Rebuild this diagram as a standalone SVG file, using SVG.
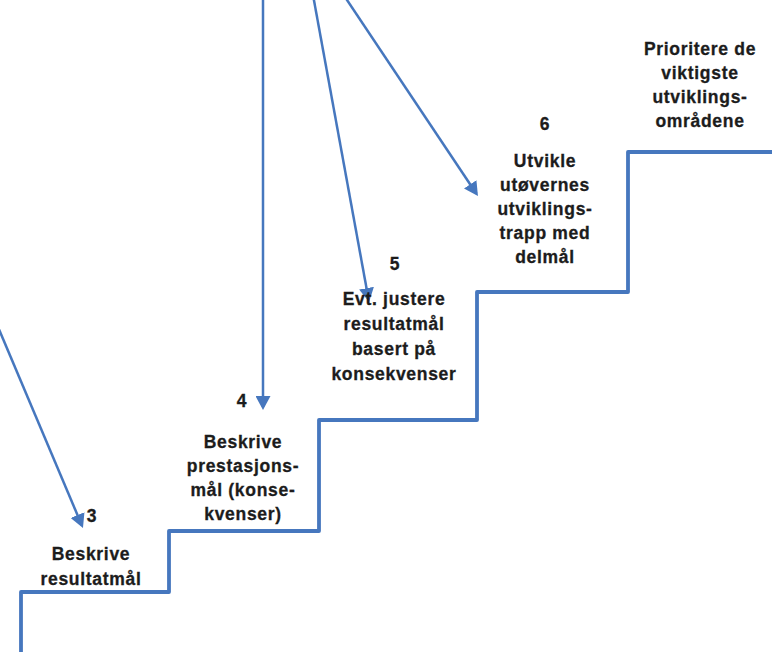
<svg xmlns="http://www.w3.org/2000/svg" width="772" height="655" viewBox="0 0 772 655">
  <style>
    .stair { fill: none; stroke: #4677be; stroke-width: 3.8; stroke-linejoin: round; }
    .arrow { fill: none; stroke: #4677be; stroke-width: 2.5; }
    .lbl { font-family: "Liberation Sans", Arial, sans-serif; font-weight: bold; font-size: 17.5px; letter-spacing: 0.7px; fill: #1c1c1c; stroke: #1c1c1c; stroke-width: 0.3; text-anchor: middle; }
  </style>
  <defs>
    <marker id="head" viewBox="0 0 14 15" refX="11" refY="7.5" markerWidth="14" markerHeight="15" markerUnits="userSpaceOnUse" orient="auto">
      <path d="M0,0 L14,7.5 L0,15 z" fill="#4677be"/>
    </marker>
  </defs>

  <rect width="772" height="655" fill="#ffffff"/>

  <!-- staircase -->
  <path class="stair" d="M21,652 V592 H169 V531 H319 V420 H477 V292 H628 V152 H772"/>

  <g id="connectors">
    <path class="arrow" d="M-5,320 L81.8,525.2" marker-end="url(#head)"/>
    <path class="arrow" d="M263,-5 L263,407" marker-end="url(#head)"/>
    <path class="arrow" d="M313,-5 L368.5,299" marker-end="url(#head)"/>
    <path class="arrow" d="M345,-3 L476.3,193.5" marker-end="url(#head)"/>
  </g>

  <g id="step3">
    <text class="lbl" x="92" y="522">3</text>
    <text class="lbl" x="91" y="560">Beskrive</text>
    <text class="lbl" x="91" y="585">resultatmål</text>
  </g>

  <g id="step4">
    <text class="lbl" x="242" y="407">4</text>
    <text class="lbl" x="243" y="448">Beskrive</text>
    <text class="lbl" x="243" y="472">prestasjons-</text>
    <text class="lbl" x="243" y="496">mål (konse-</text>
    <text class="lbl" x="243" y="520">kvenser)</text>
  </g>

  <g id="step5">
    <text class="lbl" x="395" y="270">5</text>
    <text class="lbl" x="394" y="305">Evt. justere</text>
    <text class="lbl" x="394" y="330">resultatmål</text>
    <text class="lbl" x="394" y="355">basert på</text>
    <text class="lbl" x="394" y="380">konsekvenser</text>
  </g>

  <g id="step6">
    <text class="lbl" x="545" y="130">6</text>
    <text class="lbl" x="545" y="167">Utvikle</text>
    <text class="lbl" x="545" y="191">utøvernes</text>
    <text class="lbl" x="545" y="215">utviklings-</text>
    <text class="lbl" x="545" y="239">trapp med</text>
    <text class="lbl" x="545" y="263">delmål</text>
  </g>

  <g id="step7">
    <text class="lbl" x="700" y="55">Prioritere de</text>
    <text class="lbl" x="700" y="79">viktigste</text>
    <text class="lbl" x="700" y="103">utviklings-</text>
    <text class="lbl" x="700" y="127">områdene</text>
  </g>
</svg>
